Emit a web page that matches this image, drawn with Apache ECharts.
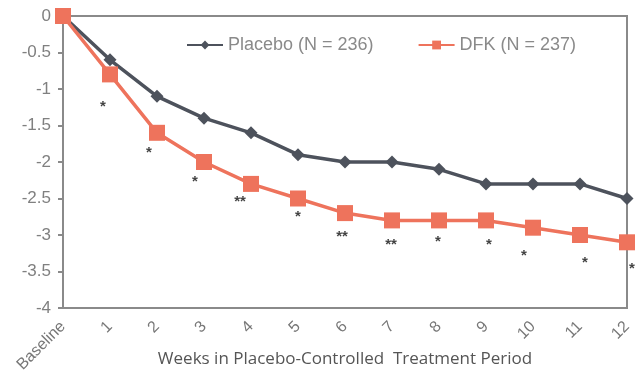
<!DOCTYPE html>
<html><head><meta charset="utf-8">
<script src="https://cdn.jsdelivr.net/npm/echarts@6/dist/echarts.min.js"></script>
<style>html,body{margin:0;padding:0;background:#fff}#c{width:639px;height:380px}</style>
</head><body><div id="c"></div>
<script>
const categories = ['Baseline','1','2','3','4','5','6','7','8','9','10','11','12'];
const placebo = [0,-0.6,-1.1,-1.4,-1.6,-1.9,-2.0,-2.0,-2.1,-2.3,-2.3,-2.3,-2.5];
const dfk = [0,-0.8,-1.6,-2.0,-2.3,-2.5,-2.7,-2.8,-2.8,-2.8,-2.9,-3.0,-3.1];
const starLabels = ['', '*','*','*','**','*','**','**','*','*','*','*','*'];
const starPos = [null,-1.25,-1.88,-2.27,-2.54,-2.75,-3.03,-3.13,-3.09,-3.13,-3.29,-3.38,-3.46];
const starDx = [0,-7,-8,-9,-11,0,-3,-1,-1,3,-9,5,5];
const yTicks = [0,-0.5,-1,-1.5,-2,-2.5,-3,-3.5,-4];

const chart = echarts.init(document.getElementById('c'));
chart.setOption({
  animation:false,
  grid:{left:63,right:12,top:16,bottom:72,show:true,borderColor:'#8a8a8a',borderWidth:2,
        containLabel:false,outerBoundsMode:'none'},
  legend:{
    top:31,left:181,itemGap:44,itemWidth:36,itemHeight:11,
    textStyle:{color:'#8a8a8a',fontSize:18,fontFamily:'Liberation Sans'},
    data:['Placebo (N = 236)','DFK (N = 237)']
  },
  xAxis:{
    type:'category',data:categories,boundaryGap:false,
    axisLine:{lineStyle:{color:'#8a8a8a',width:2}},
    axisTick:{show:false},
    axisLabel:{rotate:45,color:'#777',fontSize:16,fontFamily:'Liberation Sans',margin:16},
    name:'Weeks in Placebo-Controlled  Treatment Period',
    nameLocation:'middle',nameGap:43,nameMoveOverlap:false,
    nameTextStyle:{color:'#555',fontSize:17,fontFamily:'Open Sans'}
  },
  yAxis:{
    type:'value',min:-4,max:0,interval:0.5,
    axisLine:{show:true,lineStyle:{color:'#8a8a8a',width:2}},
    axisTick:{show:true,length:5,lineStyle:{color:'#8a8a8a',width:2}},
    splitLine:{show:false},
    axisLabel:{color:'#808080',fontSize:17,fontFamily:'Liberation Sans',margin:12,
      formatter:v=>String(v)}
  },
  series:[
    {name:'Placebo (N = 236)',type:'line',data:placebo,symbol:'diamond',symbolSize:13,
     lineStyle:{color:'#4d525c',width:3.5},itemStyle:{color:'#4d525c'},z:3},
    {name:'DFK (N = 237)',type:'line',data:dfk,symbol:'rect',symbolSize:16,
     lineStyle:{color:'#ee735c',width:3.5},itemStyle:{color:'#ee735c'},z:4},
    {name:'stars',type:'scatter',symbolSize:0,silent:true,
     data:starPos.map((v,i)=>v===null?null:{value:[i,v],label:{show:true,formatter:starLabels[i],offset:[starDx[i],0]}}).filter(d=>d),
     label:{show:true,position:'inside',color:'#111',fontSize:15,fontWeight:'bold',fontFamily:'Liberation Sans'}}
  ]
});
</script></body></html>
